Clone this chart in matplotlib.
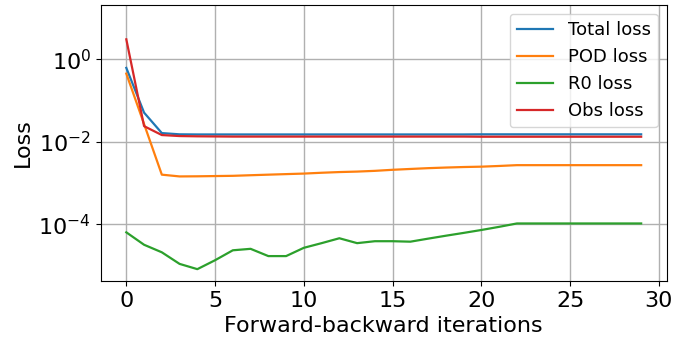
import matplotlib
matplotlib.use("Agg")
import matplotlib.pyplot as plt

# iteration index
iters = list(range(30))

# losses (log scale)
total_loss = [0.62, 0.051, 0.0163, 0.0152, 0.0151, 0.0151, 0.0151, 0.0151, 0.0151, 0.0151,
              0.0151, 0.0151, 0.0151, 0.0151, 0.0151, 0.0151, 0.0151, 0.0151, 0.0151, 0.0151,
              0.0152, 0.0152, 0.0152, 0.0152, 0.0152, 0.0152, 0.0152, 0.0152, 0.0152, 0.0152]
pod_loss = [0.45, 0.027, 0.0016, 0.00145, 0.00146, 0.00148, 0.0015, 0.00155, 0.0016, 0.00165,
            0.0017, 0.00178, 0.00185, 0.0019, 0.00198, 0.0021, 0.0022, 0.0023, 0.00238, 0.00245,
            0.0025, 0.0026, 0.00272, 0.00272, 0.00272, 0.00272, 0.00272, 0.00272, 0.00272, 0.00272]
r0_loss = [6.4e-5, 3.2e-5, 2.1e-5, 1.1e-5, 8.2e-6, 1.35e-5, 2.35e-5, 2.55e-5, 1.7e-5, 1.7e-5,
           2.7e-5, 3.5e-5, 4.6e-5, 3.5e-5, 3.9e-5, 3.9e-5, 3.8e-5, 4.5e-5, 5.3e-5, 6.2e-5,
           7.3e-5, 8.7e-5, 1.05e-4, 1.05e-4, 1.05e-4, 1.05e-4, 1.05e-4, 1.05e-4, 1.05e-4, 1.05e-4]
obs_loss = [3.05, 0.024, 0.0146, 0.0138, 0.0136, 0.0135, 0.0134, 0.0134, 0.0134, 0.0134,
            0.0134, 0.0134, 0.0134, 0.0134, 0.0134, 0.0134, 0.0134, 0.0134, 0.0134, 0.0134,
            0.0133, 0.0133, 0.0133, 0.0133, 0.0133, 0.0133, 0.0133, 0.0133, 0.0133, 0.0133]

fig = plt.figure(figsize=(6.75, 3.47), dpi=100)
ax = fig.add_axes([0.149, 0.19, 0.839, 0.796])

ax.plot(iters, total_loss, label="Total loss", lw=1.6)
ax.plot(iters, pod_loss, label="POD loss", lw=1.6)
ax.plot(iters, r0_loss, label="R0 loss", lw=1.6)
ax.plot(iters, obs_loss, label="Obs loss", lw=1.6)

ax.set_yscale("log")
ax.set_ylim(10 ** -5.375, 10 ** 1.32)
ax.set_xlim(-1.45, 30.45)
ax.set_xticks([0, 5, 10, 15, 20, 25, 30])
ax.set_yticks([1e-4, 1e-2, 1e0])
ax.minorticks_off()
ax.tick_params(labelsize=16)
ax.grid(True, lw=1)
ax.set_xlabel("Forward-backward iterations", fontsize=16)
ax.set_ylabel("Loss", fontsize=16)
ax.legend(loc="upper right", fontsize=13)

fig.savefig("out.png", dpi=100)
